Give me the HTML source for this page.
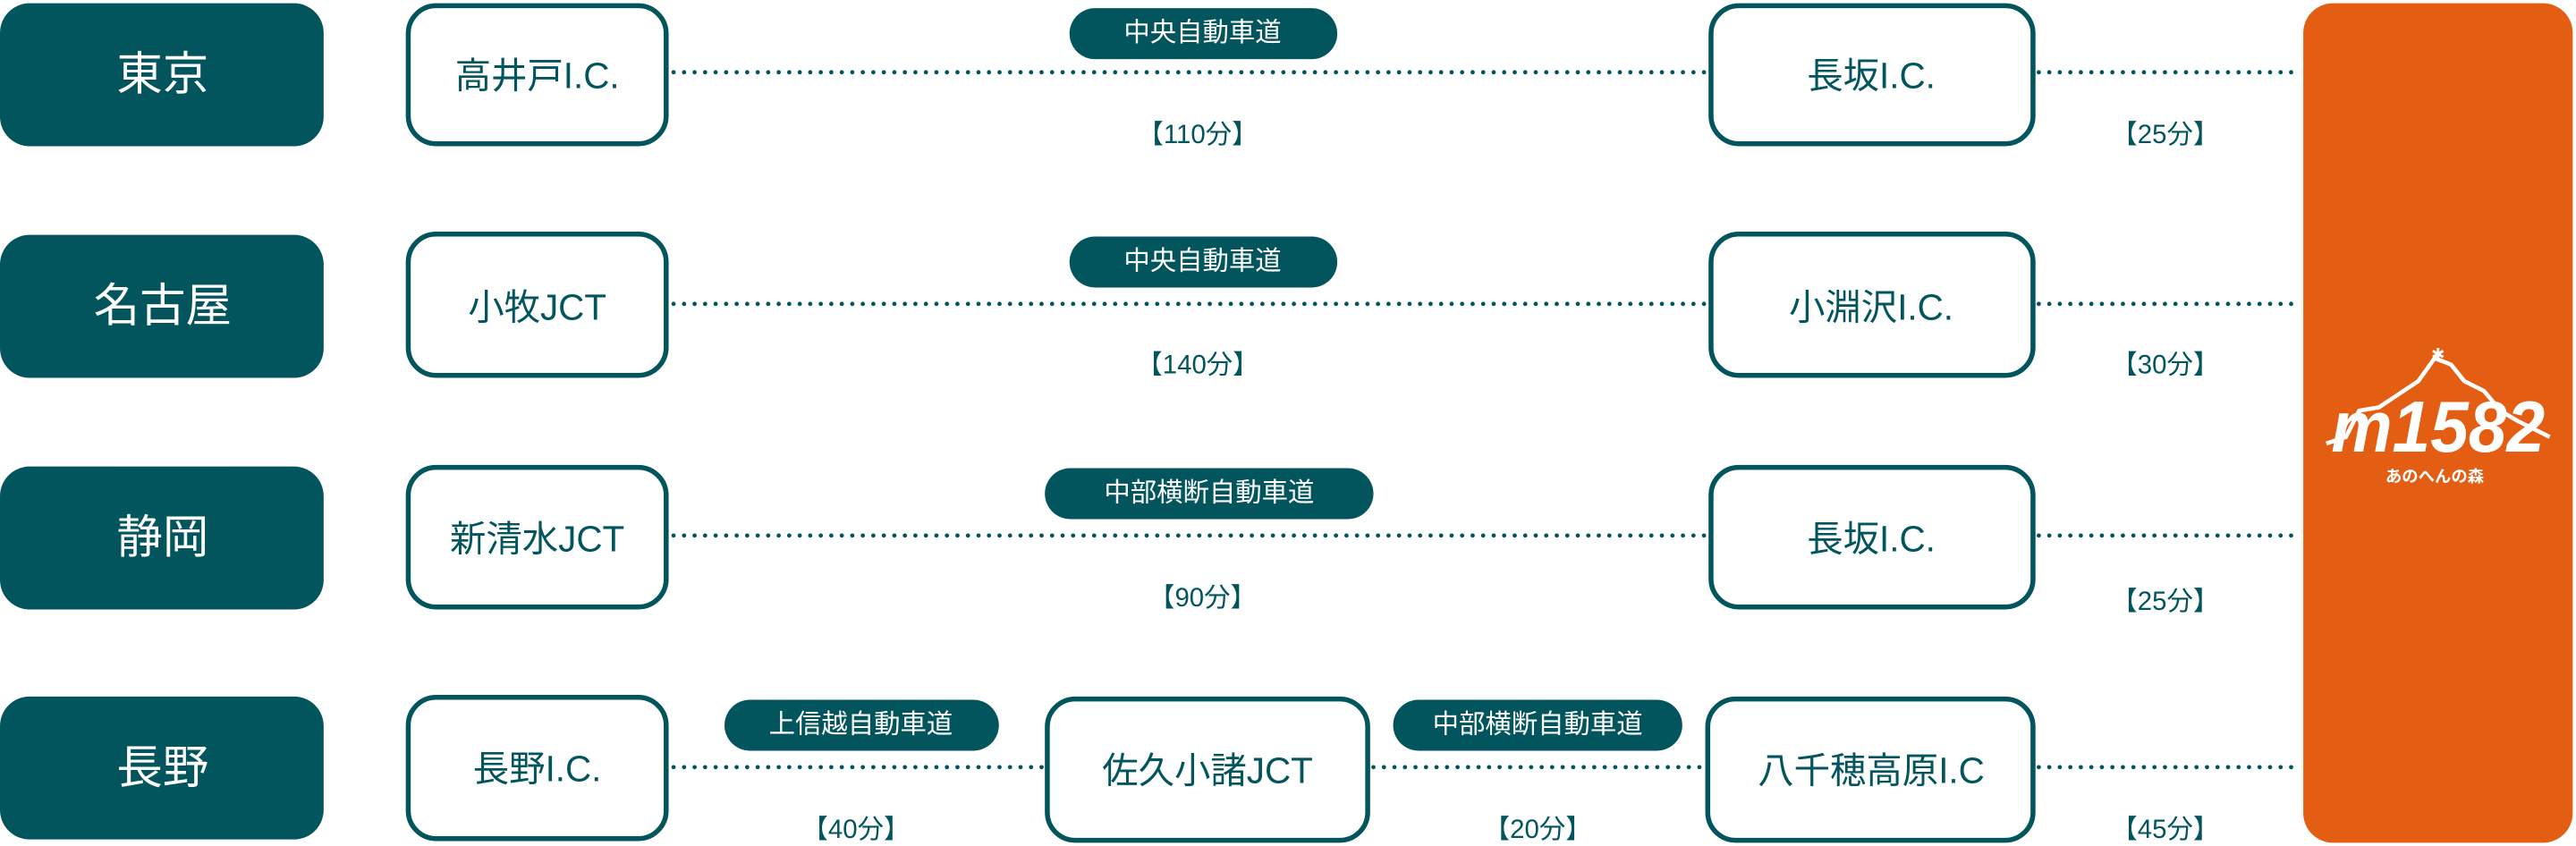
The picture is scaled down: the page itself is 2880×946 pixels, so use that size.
<!DOCTYPE html>
<html><head><meta charset="utf-8"><style>
html,body{margin:0;padding:0;background:#fff;}
svg{display:block;}
text{font-family:"Liberation Sans","Noto Sans CJK JP",sans-serif;}
</style></head><body>
<svg width="2880" height="946" viewBox="0 0 1568 515" preserveAspectRatio="none" xmlns="http://www.w3.org/2000/svg">
<defs>
<style>
.city{fill:#02545d;}
.node{fill:#fff;stroke:#02545d;stroke-width:3;}
.pill{fill:#02545d;}
.dot{stroke:#02545d;stroke-width:2.6;stroke-linecap:round;stroke-dasharray:0 6.4;fill:none;}
.ct{fill:#fff;font-size:28px;text-anchor:middle;dominant-baseline:central;}
.nt{fill:#02545d;font-size:22px;text-anchor:middle;dominant-baseline:central;}
.pt{fill:#fff;font-size:16px;text-anchor:middle;dominant-baseline:central;}
.tt{fill:#02545d;font-size:16px;text-anchor:middle;dominant-baseline:central;}
</style>
</defs>

<!-- orange box -->
<rect x="1402" y="2" width="164" height="511" rx="18" fill="#e35e13"/>
<g>
<polyline points="1416,270 1428,266 1436,250 1448,248 1460,240 1472,232 1482,218 1492,222 1500,232 1512,238 1522,250 1532,256 1552,266" fill="none" stroke="#fff" stroke-width="2.5"/>
<text x="1484" y="275" fill="#fff" font-size="44" font-weight="bold" font-style="italic" text-anchor="middle" textLength="130" lengthAdjust="spacingAndGlyphs">m1582</text>
<text x="1484" y="219" fill="#fff" font-size="10" text-anchor="middle">✱</text>
<text x="1482" y="290" fill="#fff" font-size="10" font-weight="bold" text-anchor="middle" dominant-baseline="central">あのへんの森</text>
</g>

<!-- Row 1 -->
<rect class="city" x="0" y="2" width="197" height="87" rx="18"/>
<text class="ct" x="99" y="45">東京</text>
<line class="dot" x1="410" y1="44" x2="1038" y2="44"/>
<line class="dot" x1="1241" y1="44" x2="1400" y2="44"/>
<rect class="node" x="248.5" y="3.5" width="157" height="84" rx="17"/>
<text class="nt" x="327" y="46">高井戸I.C.</text>
<rect class="node" x="1041.5" y="3.5" width="196" height="84" rx="17"/>
<text class="nt" x="1139" y="46">長坂I.C.</text>
<rect class="pill" x="651" y="5" width="163" height="31" rx="15.5"/>
<text class="pt" x="732" y="20">中央自動車道</text>
<text class="tt" x="729" y="82">【110分】</text>
<text class="tt" x="1318" y="82">【25分】</text>

<!-- Row 2 -->
<rect class="city" x="0" y="143" width="197" height="87" rx="18"/>
<text class="ct" x="99" y="186">名古屋</text>
<line class="dot" x1="410" y1="185" x2="1038" y2="185"/>
<line class="dot" x1="1241" y1="185" x2="1400" y2="185"/>
<rect class="node" x="248.5" y="142.5" width="157" height="86" rx="17"/>
<text class="nt" x="327" y="187">小牧JCT</text>
<rect class="node" x="1041.5" y="142.5" width="196" height="86" rx="17"/>
<text class="nt" x="1139" y="187">小淵沢I.C.</text>
<rect class="pill" x="651" y="144" width="163" height="31" rx="15.5"/>
<text class="pt" x="732" y="159">中央自動車道</text>
<text class="tt" x="729" y="222">【140分】</text>
<text class="tt" x="1318" y="222">【30分】</text>

<!-- Row 3 -->
<rect class="city" x="0" y="284" width="197" height="87" rx="18"/>
<text class="ct" x="99" y="327">静岡</text>
<line class="dot" x1="410" y1="326" x2="1038" y2="326"/>
<line class="dot" x1="1241" y1="326" x2="1400" y2="326"/>
<rect class="node" x="248.5" y="284.5" width="157" height="85" rx="17"/>
<text class="nt" x="327" y="328">新清水JCT</text>
<rect class="node" x="1041.5" y="284.5" width="196" height="85" rx="17"/>
<text class="nt" x="1139" y="328">長坂I.C.</text>
<rect class="pill" x="636" y="285" width="200" height="31" rx="15.5"/>
<text class="pt" x="736" y="300">中部横断自動車道</text>
<text class="tt" x="732" y="364">【90分】</text>
<text class="tt" x="1318" y="366">【25分】</text>

<!-- Row 4 -->
<rect class="city" x="0" y="424" width="197" height="87" rx="18"/>
<text class="ct" x="99" y="467">長野</text>
<line class="dot" x1="410" y1="467" x2="634" y2="467"/>
<line class="dot" x1="836" y1="467" x2="1036" y2="467"/>
<line class="dot" x1="1241" y1="467" x2="1400" y2="467"/>
<rect class="node" x="248.5" y="424.5" width="157" height="86" rx="17"/>
<text class="nt" x="327" y="468">長野I.C.</text>
<rect class="node" x="637.5" y="425.5" width="195" height="86" rx="17"/>
<text class="nt" x="735" y="469">佐久小諸JCT</text>
<rect class="node" x="1039.5" y="425.5" width="198" height="86" rx="17"/>
<text class="nt" x="1139" y="469">八千穂高原I.C</text>
<rect class="pill" x="441" y="426" width="167" height="31" rx="15.5"/>
<text class="pt" x="524" y="441">上信越自動車道</text>
<rect class="pill" x="848" y="426" width="176" height="31" rx="15.5"/>
<text class="pt" x="936" y="441">中部横断自動車道</text>
<text class="tt" x="521" y="505">【40分】</text>
<text class="tt" x="936" y="505">【20分】</text>
<text class="tt" x="1318" y="505">【45分】</text>
</svg>
</body></html>
